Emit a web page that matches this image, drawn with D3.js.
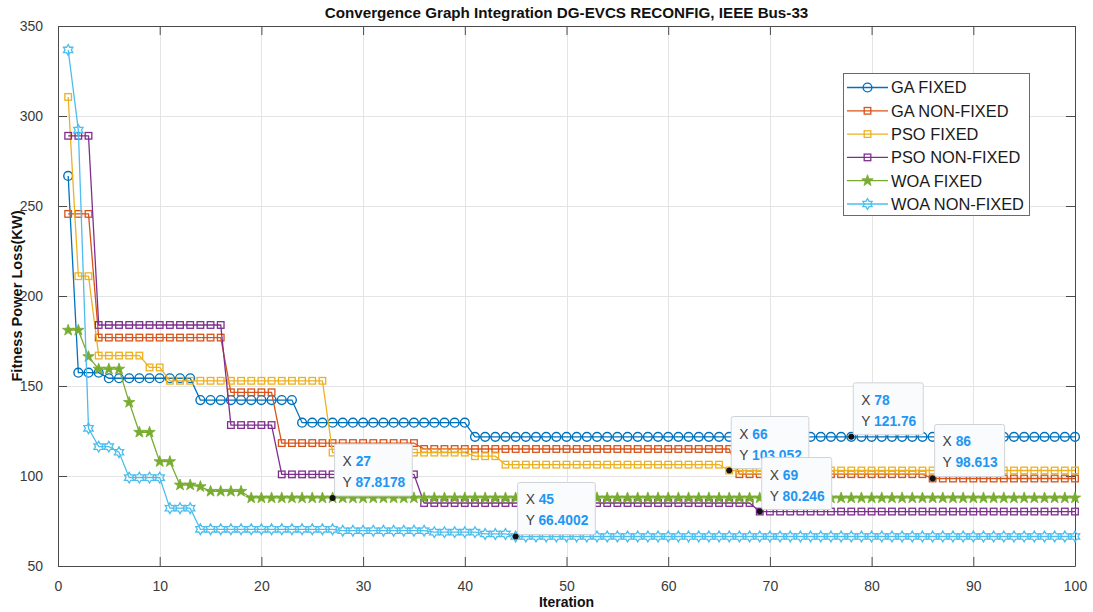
<!DOCTYPE html>
<html>
<head>
<meta charset="utf-8">
<script src="https://cdn.jsdelivr.net/npm/d3@7/dist/d3.min.js"></script>
<style>
  html, body { margin: 0; padding: 0; background: #ffffff; }
  svg { display: block; font-family: "Liberation Sans", Arial, Helvetica, sans-serif; }
</style>
</head>
<body>
<svg id="chart" width="1093" height="612"></svg>
<script>
// Best fitness (power loss, kW) per iteration, iterations 1..100
const iterations = d3.range(1, 101);

const gaFixed = [
  266.7, 157.4, 157.4, 157.4, 154.3, 154.3, 154.3, 154.3, 154.3, 154.3,
  154.3, 154.3, 154.3, 142.2, 142.2, 142.2, 142.2, 142.2, 142.2, 142.2,
  142.2, 142.2, 142.2, 129.6, 129.6, 129.6, 129.6, 129.6, 129.6, 129.6,
  129.6, 129.6, 129.6, 129.6, 129.6, 129.6, 129.6, 129.6, 129.6, 129.6,
  121.76, 121.76, 121.76, 121.76, 121.76, 121.76, 121.76, 121.76, 121.76, 121.76,
  121.76, 121.76, 121.76, 121.76, 121.76, 121.76, 121.76, 121.76, 121.76, 121.76,
  121.76, 121.76, 121.76, 121.76, 121.76, 121.76, 121.76, 121.76, 121.76, 121.76,
  121.76, 121.76, 121.76, 121.76, 121.76, 121.76, 121.76, 121.76, 121.76, 121.76,
  121.76, 121.76, 121.76, 121.76, 121.76, 121.76, 121.76, 121.76, 121.76, 121.76,
  121.76, 121.76, 121.76, 121.76, 121.76, 121.76, 121.76, 121.76, 121.76, 121.76
];

const gaNonFixed = [
  245.6, 245.6, 245.6, 176.9, 176.9, 176.9, 176.9, 176.9, 176.9, 176.9,
  176.9, 176.9, 176.9, 176.9, 176.9, 176.9, 146.5, 146.5, 146.5, 146.5,
  146.5, 118.3, 118.3, 118.3, 118.3, 118.3, 118.3, 118.3, 118.3, 118.3,
  118.3, 118.3, 118.3, 118.3, 118.3, 115.0, 115.0, 115.0, 115.0, 115.0,
  115.0, 115.0, 115.0, 115.0, 115.0, 115.0, 115.0, 115.0, 115.0, 115.0,
  115.0, 115.0, 115.0, 115.0, 115.0, 115.0, 115.0, 115.0, 115.0, 115.0,
  115.0, 115.0, 115.0, 115.0, 115.0, 115.0, 101.0, 101.0, 101.0, 101.0,
  101.0, 101.0, 101.0, 101.0, 101.0, 101.0, 101.0, 101.0, 101.0, 101.0,
  101.0, 101.0, 101.0, 101.0, 101.0, 98.613, 98.613, 98.613, 98.613, 98.613,
  98.613, 98.613, 98.613, 98.613, 98.613, 98.613, 98.613, 98.613, 98.613, 98.613
];

const psoFixed = [
  310.6, 211.0, 211.0, 166.9, 166.9, 166.9, 166.9, 166.9, 160.3, 160.3,
  152.9, 152.9, 152.9, 152.9, 152.9, 152.9, 152.9, 152.9, 152.9, 152.9,
  152.9, 152.9, 152.9, 152.9, 152.9, 152.9, 113.0, 113.0, 113.0, 113.0,
  113.0, 113.0, 113.0, 113.0, 113.0, 113.0, 113.0, 113.0, 113.0, 113.0,
  111.0, 111.0, 111.0, 106.3, 106.3, 106.3, 106.3, 106.3, 106.3, 106.3,
  106.3, 106.3, 106.3, 106.3, 106.3, 106.3, 106.3, 106.3, 106.3, 106.3,
  106.3, 106.3, 106.3, 106.3, 106.3, 103.052, 103.052, 103.052, 103.052, 103.052,
  103.052, 103.052, 103.052, 103.052, 103.052, 103.052, 103.052, 103.052, 103.052, 103.052,
  103.052, 103.052, 103.052, 103.052, 103.052, 103.052, 103.052, 103.052, 103.052, 103.052,
  103.052, 103.052, 103.052, 103.052, 103.052, 103.052, 103.052, 103.052, 103.052, 103.052
];

const psoNonFixed = [
  289.0, 289.0, 289.0, 183.9, 183.9, 183.9, 183.9, 183.9, 183.9, 183.9,
  183.9, 183.9, 183.9, 183.9, 183.9, 183.9, 128.3, 128.3, 128.3, 128.3,
  128.3, 100.9, 100.9, 100.9, 100.9, 100.9, 100.9, 100.9, 100.9, 100.9,
  100.9, 100.9, 100.9, 100.9, 100.9, 85.0, 85.0, 85.0, 85.0, 85.0,
  85.0, 85.0, 85.0, 85.0, 85.0, 85.0, 85.0, 85.0, 85.0, 85.0,
  85.0, 85.0, 85.0, 85.0, 85.0, 85.0, 85.0, 85.0, 85.0, 85.0,
  85.0, 85.0, 85.0, 85.0, 85.0, 85.0, 85.0, 85.0, 80.246, 80.246,
  80.246, 80.246, 80.246, 80.246, 80.246, 80.246, 80.246, 80.246, 80.246, 80.246,
  80.246, 80.246, 80.246, 80.246, 80.246, 80.246, 80.246, 80.246, 80.246, 80.246,
  80.246, 80.246, 80.246, 80.246, 80.246, 80.246, 80.246, 80.246, 80.246, 80.246
];

const woaFixed = [
  181.0, 181.0, 166.3, 159.4, 159.4, 159.4, 140.9, 124.3, 124.3, 108.0,
  108.0, 95.0, 95.0, 94.1, 91.5, 91.5, 91.5, 91.5, 87.8178, 87.8178,
  87.8178, 87.8178, 87.8178, 87.8178, 87.8178, 87.8178, 87.8178, 87.8178, 87.8178, 87.8178,
  87.8178, 87.8178, 87.8178, 87.8178, 87.8178, 87.8178, 87.8178, 87.8178, 87.8178, 87.8178,
  87.8178, 87.8178, 87.8178, 87.8178, 87.8178, 87.8178, 87.8178, 87.8178, 87.8178, 87.8178,
  87.8178, 87.8178, 87.8178, 87.8178, 87.8178, 87.8178, 87.8178, 87.8178, 87.8178, 87.8178,
  87.8178, 87.8178, 87.8178, 87.8178, 87.8178, 87.8178, 87.8178, 87.8178, 87.8178, 87.8178,
  87.8178, 87.8178, 87.8178, 87.8178, 87.8178, 87.8178, 87.8178, 87.8178, 87.8178, 87.8178,
  87.8178, 87.8178, 87.8178, 87.8178, 87.8178, 87.8178, 87.8178, 87.8178, 87.8178, 87.8178,
  87.8178, 87.8178, 87.8178, 87.8178, 87.8178, 87.8178, 87.8178, 87.8178, 87.8178, 87.8178
];

const woaNonFixed = [
  336.7, 292.2, 126.5, 116.3, 116.3, 113.2, 99.1, 99.1, 99.1, 99.1,
  82.1, 82.1, 82.1, 70.4, 70.4, 70.4, 70.4, 70.4, 70.4, 70.4,
  70.4, 70.4, 70.4, 70.4, 70.4, 70.4, 70.4, 69.6, 69.6, 69.6,
  69.6, 69.6, 69.6, 69.6, 69.6, 69.6, 68.8, 68.8, 68.8, 68.8,
  68.8, 67.8, 67.8, 67.8, 66.4002, 66.4002, 66.4002, 66.4002, 66.4002, 66.4002,
  66.4002, 66.4002, 66.4002, 66.4002, 66.4002, 66.4002, 66.4002, 66.4002, 66.4002, 66.4002,
  66.4002, 66.4002, 66.4002, 66.4002, 66.4002, 66.4002, 66.4002, 66.4002, 66.4002, 66.4002,
  66.4002, 66.4002, 66.4002, 66.4002, 66.4002, 66.4002, 66.4002, 66.4002, 66.4002, 66.4002,
  66.4002, 66.4002, 66.4002, 66.4002, 66.4002, 66.4002, 66.4002, 66.4002, 66.4002, 66.4002,
  66.4002, 66.4002, 66.4002, 66.4002, 66.4002, 66.4002, 66.4002, 66.4002, 66.4002, 66.4002
];

const seriesNames = ["GA FIXED", "GA NON-FIXED", "PSO FIXED", "PSO NON-FIXED", "WOA FIXED", "WOA NON-FIXED"];
const seriesValues = [gaFixed, gaNonFixed, psoFixed, psoNonFixed, woaFixed, woaNonFixed];
const seriesColors = ["#0072BD", "#D95319", "#EDB120", "#7E2F8E", "#77AC30", "#4DBEEE"];
const seriesMarkers = ["circle", "square", "square", "square", "pentagram", "hexagram"];

const xTicks = [0, 10, 20, 30, 40, 50, 60, 70, 80, 90, 100];
const yTicks = [50, 100, 150, 200, 250, 300, 350];

// Data tips: [series index, iteration]
const dataTips = [[4, 27], [5, 45], [2, 66], [3, 69], [0, 78], [1, 86]];

const titleText = "Convergence Graph Integration DG-EVCS RECONFIG, IEEE Bus-33";
const xLabelText = "Iteration";
const yLabelText = "Fitness Power Loss(KW)";

// ---- layout ----
const svg = d3.select("#chart");
const plot = { left: 58, right: 1075, top: 26, bottom: 566 };

const x = d3.scaleLinear().domain([0, 100]).range([plot.left, plot.right]);
const y = d3.scaleLinear().domain([50, 350]).range([plot.bottom, plot.top]);

svg.append("rect").attr("width", 1093).attr("height", 612).attr("fill", "#ffffff");

// grid
const grid = svg.append("g").attr("stroke", "#e4e4e4").attr("stroke-width", 1);
grid.selectAll("line.gx").data(xTicks.slice(1, -1)).join("line")
  .attr("x1", d => Math.round(x(d)) + 0.5).attr("x2", d => Math.round(x(d)) + 0.5)
  .attr("y1", plot.top).attr("y2", plot.bottom);
grid.selectAll("line.gy").data(yTicks.slice(1, -1)).join("line")
  .attr("y1", d => Math.round(y(d)) + 0.5).attr("y2", d => Math.round(y(d)) + 0.5)
  .attr("x1", plot.left).attr("x2", plot.right);

// axes (ticks inside, box on all sides)
const tickLen = 9;
const axisColor = "#4a4a4a";
const xAxisB = d3.axisBottom(x).tickValues(xTicks).tickSizeInner(-tickLen).tickSizeOuter(0).tickPadding(tickLen + 6);
const xAxisT = d3.axisTop(x).tickValues(xTicks).tickSizeInner(-tickLen).tickSizeOuter(0).tickFormat("");
const yAxisL = d3.axisLeft(y).tickValues(yTicks).tickSizeInner(-tickLen).tickSizeOuter(0).tickPadding(tickLen + 6);
const yAxisR = d3.axisRight(y).tickValues(yTicks).tickSizeInner(-tickLen).tickSizeOuter(0).tickFormat("");

function styleAxis(g) {
  g.selectAll("path.domain").attr("stroke", axisColor).attr("stroke-width", 1);
  g.selectAll(".tick line").attr("stroke", axisColor).attr("stroke-width", 1);
  g.selectAll(".tick text").attr("fill", "#3a3a3a").style("font-size", "14px")
    .style("font-family", "'Liberation Sans', Arial, Helvetica, sans-serif");
}
svg.append("g").attr("transform", `translate(0,${plot.bottom})`).call(xAxisB).call(styleAxis);
svg.append("g").attr("transform", `translate(0,${plot.top})`).call(xAxisT).call(styleAxis);
svg.append("g").attr("transform", `translate(${plot.left},0)`).call(yAxisL).call(styleAxis);
svg.append("g").attr("transform", `translate(${plot.right},0)`).call(yAxisR).call(styleAxis);

// ---- marker shapes ----
function starPath(points, rOuter, rInner) {
  const p = d3.path();
  for (let k = 0; k < points * 2; k++) {
    const r = k % 2 === 0 ? rOuter : rInner;
    const a = -Math.PI / 2 + k * Math.PI / points;
    const px = r * Math.cos(a), py = r * Math.sin(a);
    if (k === 0) p.moveTo(px, py); else p.lineTo(px, py);
  }
  p.closePath();
  return p.toString();
}
function drawMarker(g, kind, color) {
  if (kind === "circle") {
    g.append("circle").attr("r", 4.4).attr("fill", "none").attr("stroke", color).attr("stroke-width", 1.4);
  } else if (kind === "square") {
    g.append("rect").attr("x", -3.3).attr("y", -3.3).attr("width", 6.6).attr("height", 6.6)
      .attr("fill", "none").attr("stroke", color).attr("stroke-width", 1.3);
  } else if (kind === "pentagram") {
    g.append("path").attr("d", starPath(5, 6.0, 2.4)).attr("fill", color).attr("stroke", color).attr("stroke-width", 0.8);
  } else if (kind === "hexagram") {
    g.append("path").attr("d", starPath(6, 5.4, 3.1)).attr("fill", "none").attr("stroke", color).attr("stroke-width", 1.3);
  }
}

// ---- series ----
const line = d3.line().x(d => x(d[0])).y(d => y(d[1]));
const linesG = svg.append("g");
seriesValues.forEach((vals, si) => {
  const pts = iterations.map((it, k) => [it, vals[k]]);
  const g = linesG.append("g");
  g.append("path").datum(pts).attr("d", line).attr("fill", "none")
    .attr("stroke", seriesColors[si]).attr("stroke-width", 1.3);
  g.selectAll("g.m").data(pts).join("g")
    .attr("transform", d => `translate(${x(d[0])},${y(d[1])})`)
    .each(function () { drawMarker(d3.select(this), seriesMarkers[si], seriesColors[si]); });
});

// ---- data tips ----
const tipsG = svg.append("g").style("font-size", "13.8px");
dataTips.forEach(([si, it]) => {
  const val = seriesValues[si][it - 1];
  const px = x(it), py = y(val);
  const g = tipsG.append("g");
  const left = px + 2, top = py - 54;
  const box = g.append("rect").attr("x", left).attr("y", top).attr("height", 52)
    .attr("rx", 2).attr("fill", "#fafbfd").attr("stroke", "#cfd3d8").attr("stroke-width", 1);
  const t1 = g.append("text").attr("x", left + 8).attr("y", top + 22);
  t1.append("tspan").attr("fill", "#404040").text("X ");
  t1.append("tspan").attr("fill", "#2196f3").attr("font-weight", "bold").text(String(it));
  const t2 = g.append("text").attr("x", left + 8).attr("y", top + 43);
  t2.append("tspan").attr("fill", "#404040").text("Y ");
  t2.append("tspan").attr("fill", "#2196f3").attr("font-weight", "bold").text(String(val));
  const w = Math.max(t1.node().getComputedTextLength(), t2.node().getComputedTextLength()) + 15;
  box.attr("width", w);
  g.append("circle").attr("cx", px).attr("cy", py).attr("r", 3).attr("fill", "#111111");
});

// ---- legend ----
const legend = svg.append("g");
const lg = { x: 843.5, y: 73.5, w: 186, h: 142 };
legend.append("rect").attr("x", lg.x).attr("y", lg.y).attr("width", lg.w).attr("height", lg.h)
  .attr("fill", "#ffffff").attr("stroke", "#6a6a6a").attr("stroke-width", 1);
seriesNames.forEach((name, si) => {
  const cy = 87.5 + si * 23.3;
  const row = legend.append("g");
  row.append("line").attr("x1", 847).attr("x2", 888).attr("y1", cy).attr("y2", cy)
    .attr("stroke", seriesColors[si]).attr("stroke-width", 1.3);
  drawMarker(row.append("g").attr("transform", `translate(867.5,${cy})`), seriesMarkers[si], seriesColors[si]);
  row.append("text").attr("x", 891).attr("y", cy + 5.9).attr("fill", "#1a1a1a")
    .style("font-size", "16.4px").text(name);
});

// ---- titles ----
svg.append("text").attr("x", (plot.left + plot.right) / 2).attr("y", 18)
  .attr("text-anchor", "middle").attr("font-weight", "bold").style("font-size", "15.2px")
  .attr("fill", "#111111").text(titleText);
svg.append("text").attr("x", (plot.left + plot.right) / 2).attr("y", 607)
  .attr("text-anchor", "middle").attr("font-weight", "bold").style("font-size", "14px")
  .attr("fill", "#111111").text(xLabelText);
svg.append("text").attr("transform", `translate(22,${(plot.top + plot.bottom) / 2}) rotate(-90)`)
  .attr("text-anchor", "middle").attr("font-weight", "bold").style("font-size", "14.6px")
  .attr("fill", "#111111").text(yLabelText);
</script>
</body>
</html>
